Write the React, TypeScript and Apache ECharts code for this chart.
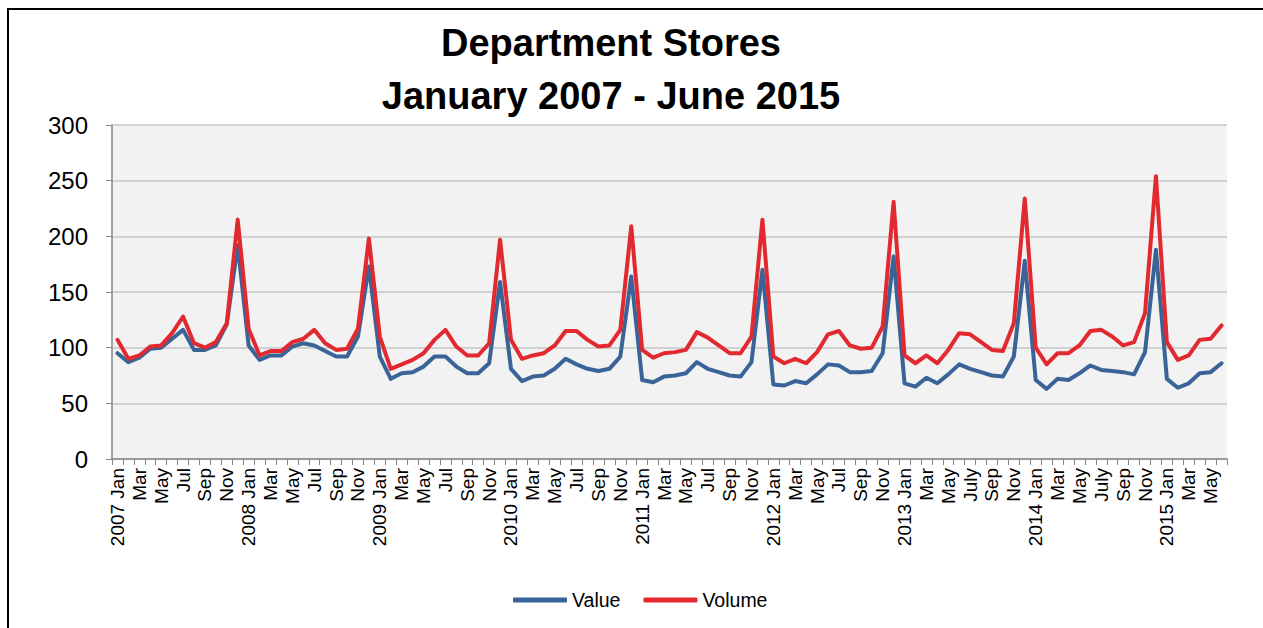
import React, { useEffect, useRef } from "react";
import * as echarts from "echarts";

const TITLE_LINES = ["Department Stores", "January 2007 - June 2015"];
const SERIES_NAMES = ["Value", "Volume"];
const YEARS = [2007, 2008, 2009, 2010, 2011, 2012, 2013, 2014, 2015];
const MONTHS = ["Jan", "Feb", "Mar", "Apr", "May", "Jun", "Jul", "Aug", "Sep", "Oct", "Nov", "Dec"];
const LONG_JULY_YEARS = [2013, 2014];
const MONTH_COUNT = 102;
const Y_TICKS = [0, 50, 100, 150, 200, 250, 300];

const VALUE = [
  95, 87, 91, 99, 100, 108, 116, 98, 98, 102, 121, 192,
  102, 89, 93, 93, 101, 104, 102, 97, 92, 92, 110, 173,
  92, 72, 77, 78, 83, 92, 92, 83, 77, 77, 86, 159,
  81, 70, 74, 75, 81, 90, 85, 81, 79, 81, 92, 164,
  71, 69, 74, 75, 77, 87, 81, 78, 75, 74, 87, 170,
  67, 66, 70, 68, 76, 85, 84, 78, 78, 79, 95, 182,
  68, 65, 73, 68, 76, 85, 81, 78, 75, 74, 92, 178,
  71, 63, 72, 71, 77, 84, 80, 79, 78, 76, 96, 188,
  72, 64, 68, 77, 78, 86,
];

const VOLUME = [
  107, 90, 93, 101, 102, 113, 128, 104, 100, 105, 122, 215,
  117, 93, 97, 97, 105, 108, 116, 104, 98, 99, 117, 198,
  110, 81, 85, 89, 95, 107, 116, 101, 93, 93, 104, 197,
  107, 90, 93, 95, 102, 115, 115, 107, 101, 102, 116, 209,
  98, 91, 95, 96, 98, 114, 109, 102, 95, 95, 110, 215,
  92, 86, 90, 86, 96, 112, 115, 102, 99, 100, 119, 231,
  93, 86, 93, 86, 98, 113, 112, 105, 98, 97, 122, 234,
  100, 85, 95, 95, 102, 115, 116, 110, 102, 105, 131, 254,
  105, 89, 93, 107, 108, 120,
];

const CATEGORIES: string[] = [];
for (let i = 0; i < MONTH_COUNT; i++) {
  const year = YEARS[Math.floor(i / 12)];
  const m = i % 12;
  if (m === 0) CATEGORIES.push(`${year} Jan`);
  else if (m === 6 && LONG_JULY_YEARS.includes(year)) CATEGORIES.push("July");
  else CATEGORIES.push(MONTHS[m]);
}

const FONT = "'Liberation Sans', Arial, sans-serif";

export default function App() {
  const ref = useRef<HTMLDivElement>(null);
  useEffect(() => {
    document.body.style.margin = "0";
    if (!ref.current) return;
    const chart = echarts.init(ref.current, null, { renderer: "svg" });
    chart.setOption({
      animation: false,
      backgroundColor: "#ffffff",
      title: {
        text: TITLE_LINES.join("\n"),
        left: 606,
        top: 11,
        textAlign: "center",
        textStyle: {
          fontFamily: FONT,
          fontWeight: "bold",
          fontSize: 38,
          lineHeight: 53,
          color: "#000000",
        },
      },
      graphic: [
        {
          type: "rect",
          shape: { x: 8, y: 9, width: 1400, height: 800 },
          style: { fill: "none", stroke: "#000000", lineWidth: 2 },
          silent: true,
        },
      ],
      legend: {
        data: SERIES_NAMES,
        icon: "roundRect",
        left: 508,
        top: 585,
        itemWidth: 54,
        itemHeight: 5,
        itemGap: 23,
        textStyle: { fontFamily: FONT, fontSize: 19.5, color: "#000000" },
      },
      grid: {
        left: 112,
        right: 36,
        top: 125,
        bottom: 169,
        show: true,
        backgroundColor: "#F2F2F2",
        borderWidth: 0,
      },
      xAxis: {
        type: "category",
        data: CATEGORIES,
        boundaryGap: true,
        axisLine: { show: true, lineStyle: { color: "#868686", width: 1.5 } },
        axisTick: { show: true, interval: 0, length: 6, lineStyle: { color: "#868686", width: 1 } },
        axisLabel: {
          interval: 1,
          rotate: 90,
          margin: 9,
          fontFamily: FONT,
          fontSize: 19,
          color: "#000000",
        },
        splitLine: { show: false },
      },
      yAxis: {
        type: "value",
        min: Y_TICKS[0],
        max: Y_TICKS[Y_TICKS.length - 1],
        interval: Y_TICKS[1] - Y_TICKS[0],
        axisLine: { show: true, lineStyle: { color: "#868686", width: 1.5 } },
        axisTick: { show: true, length: 6, lineStyle: { color: "#868686" } },
        axisLabel: { margin: 24, fontFamily: FONT, fontSize: 24, color: "#000000" },
        splitLine: { show: true, lineStyle: { color: "#C6C6C6", width: 1.5 } },
      },
      series: [
        {
          name: SERIES_NAMES[0],
          type: "line",
          data: VALUE,
          showSymbol: false,
          symbol: "none",
          lineStyle: { color: "#3A6497", width: 4, join: "round", cap: "round" },
          itemStyle: { color: "#3A6497" },
          z: 2,
        },
        {
          name: SERIES_NAMES[1],
          type: "line",
          data: VOLUME,
          showSymbol: false,
          symbol: "none",
          lineStyle: { color: "#E1292F", width: 4, join: "round", cap: "round" },
          itemStyle: { color: "#E1292F" },
          z: 3,
        },
      ],
    });
    return () => chart.dispose();
  }, []);
  return <div ref={ref} style={{ width: 1263, height: 628 }} />;
}
